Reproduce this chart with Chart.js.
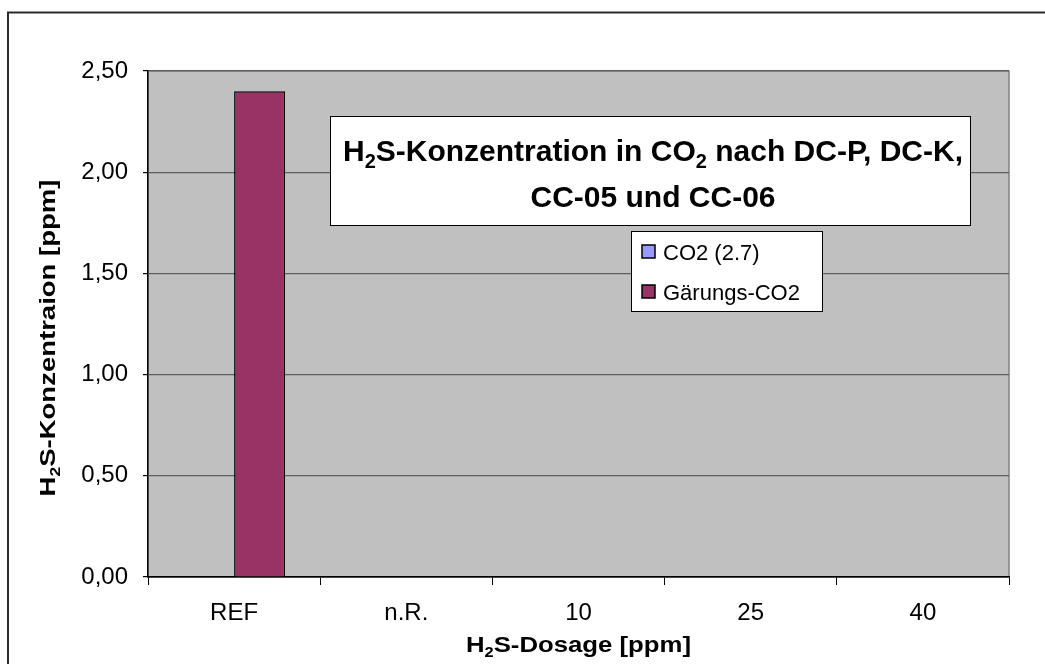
<!DOCTYPE html>
<html>
<head>
<meta charset="utf-8">
<script src="https://cdn.jsdelivr.net/npm/chart.js@4"></script>
<style>
html,body{margin:0;padding:0;background:#fff;}
canvas{display:block;}
</style>
</head>
<body>
<canvas id="c" width="1045" height="664"></canvas>
<script>
const categories = ['REF', 'n.R.', '10', '25', '40'];
const seriesNames = ['CO2 (2.7)', 'Gärungs-CO2'];
const co2Values = [0, 0, 0, 0, 0];
const gaerungsValues = [2.4, 0, 0, 0, 0];
const yTickLabels = ['0,00', '0,50', '1,00', '1,50', '2,00', '2,50'];

const FONT = '"Liberation Sans", Arial, sans-serif';

function richWidth(ctx, parts, size, weight) {
  let w = 0;
  for (const [t, sub] of parts) {
    ctx.font = weight + ' ' + (sub ? Math.round(size * 0.65) : size) + 'px ' + FONT;
    w += ctx.measureText(t).width;
  }
  return w;
}
function drawRich(ctx, parts, cx, by, size, weight) {
  const w = richWidth(ctx, parts, size, weight);
  let x = cx - w / 2;
  ctx.textAlign = 'left';
  ctx.textBaseline = 'alphabetic';
  ctx.fillStyle = '#000';
  for (const [t, sub] of parts) {
    ctx.font = weight + ' ' + (sub ? Math.round(size * 0.65) : size) + 'px ' + FONT;
    ctx.fillText(t, x, sub ? by + size * 0.22 : by);
    x += ctx.measureText(t).width;
  }
}

const decor = {
  id: 'decor',
  beforeDraw(chart) {
    const ctx = chart.ctx, a = chart.chartArea;
    ctx.save();
    ctx.fillStyle = '#fff';
    ctx.fillRect(0, 0, chart.width, chart.height);
    ctx.strokeStyle = '#2a2a2a';
    ctx.lineWidth = 2;
    ctx.strokeRect(8, 12.5, 3000, 3000);
    ctx.fillStyle = '#c0c0c0';
    ctx.fillRect(a.left, a.top, a.right - a.left, a.bottom - a.top);
    ctx.strokeStyle = '#808080';
    ctx.lineWidth = 1.5;
    ctx.strokeRect(a.left, a.top, a.right - a.left, a.bottom - a.top);
    ctx.restore();
  },
  afterDraw(chart) {
    const ctx = chart.ctx, a = chart.chartArea;
    ctx.save();
    // title box
    ctx.fillStyle = '#fff';
    ctx.fillRect(330, 116, 640, 109);
    ctx.strokeStyle = '#000';
    ctx.lineWidth = 1;
    ctx.strokeRect(330.5, 116.5, 640, 109);
    drawRich(ctx, [['H', false], ['2', true], ['S-Konzentration in CO', false], ['2', true], [' nach DC-P, DC-K,', false]], 653, 161, 30, 'bold');
    drawRich(ctx, [['CC-05 und CC-06', false]], 653, 207, 30, 'bold');

    // legend
    ctx.fillStyle = '#fff';
    ctx.fillRect(631, 231, 191, 80);
    ctx.strokeStyle = '#000';
    ctx.strokeRect(631.5, 231.5, 191, 80);
    const ds = chart.data.datasets;
    const ys = [252, 292];
    ds.forEach((d, i) => {
      ctx.fillStyle = d.backgroundColor;
      ctx.fillRect(642, ys[i] - 7, 13, 13);
      ctx.strokeStyle = '#000';
      ctx.lineWidth = 1.5;
      ctx.strokeRect(642, ys[i] - 7, 13, 13);
      ctx.fillStyle = '#000';
      ctx.font = '22px ' + FONT;
      ctx.textAlign = 'left';
      ctx.textBaseline = 'alphabetic';
      ctx.fillText(d.label, 663, ys[i] + 8);
    });

    // x axis title
    ctx.save();
    ctx.translate((a.left + a.right) / 2, 652);
    ctx.scale(1.17, 1);
    drawRich(ctx, [['H', false], ['2', true], ['S-Dosage [ppm]', false]], 0, 0, 22, 'bold');
    ctx.restore();

    // y axis title
    ctx.save();
    ctx.translate(55, 338);
    ctx.rotate(-Math.PI / 2);
    ctx.scale(1.25, 1);
    drawRich(ctx, [['H', false], ['2', true], ['S-Konzentraion [ppm]', false]], 0, 0, 22, 'bold');
    ctx.restore();

    ctx.restore();
  }
};

new Chart(document.getElementById('c'), {
  type: 'bar',
  data: {
    labels: categories,
    datasets: [
      { label: seriesNames[0], data: co2Values, backgroundColor: '#9999ff', borderColor: '#000', borderWidth: 1.5 },
      { label: seriesNames[1], data: gaerungsValues, backgroundColor: '#993366', borderColor: '#000', borderWidth: 1.5 }
    ]
  },
  options: {
    responsive: false,
    animation: false,
    devicePixelRatio: 1,
    layout: { padding: { top: 71, right: 36, left: 0, bottom: 0 } },
    datasets: { bar: { categoryPercentage: 0.592, barPercentage: 1 } },
    plugins: { legend: { display: false }, title: { display: false }, tooltip: { enabled: false } },
    scales: {
      x: {
        afterFit(s) { s.height = 87; },
        grid: { display: true, drawOnChartArea: false, offset: true, tickLength: 8, color: '#000', lineWidth: 1 },
        border: { display: true, color: '#000', width: 1.5 },
        ticks: { color: '#000', font: { family: FONT, size: 24 }, padding: 14, maxRotation: 0 }
      },
      y: {
        min: 0, max: 2.5,
        afterFit(s) { s.width = 148; },
        grid: { color: '#5e5e5e', lineWidth: 1.2, tickLength: 5, tickColor: '#000' },
        border: { display: true, color: '#000', width: 1.5 },
        ticks: {
          stepSize: 0.5, color: '#000', font: { family: FONT, size: 24 }, padding: 15,
          callback: (v, i) => yTickLabels[i]
        }
      }
    }
  },
  plugins: [decor]
});
</script>
</body>
</html>
